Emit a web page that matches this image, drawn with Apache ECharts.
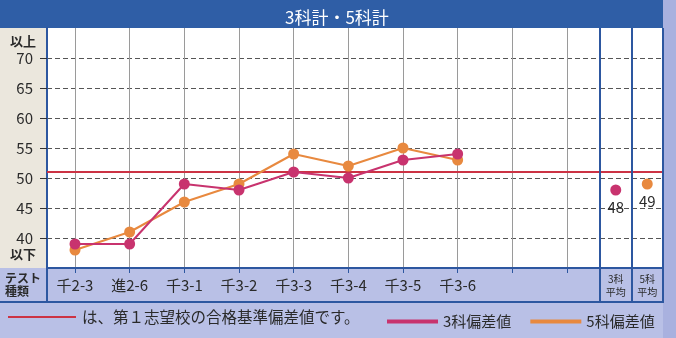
<!DOCTYPE html>
<html>
<head>
<meta charset="utf-8">
<script src="https://cdn.jsdelivr.net/npm/echarts@6/dist/echarts.min.js"></script>
<style>
html,body{margin:0;padding:0;}
#c{width:676px;height:338px;}
</style>
</head>
<body>
<div id="c"></div>
<script>
// ---- data ----
const categories = ['千2-3','進2-6','千3-1','千3-2','千3-3','千3-4','千3-5','千3-6','',''];
const score3 = [39, 39, 49, 48, 51, 50, 53, 54];
const score5 = [38, 41, 46, 49, 54, 52, 55, 53];
const avgCategories = ['3科\n平均', '5科\n平均'];
const avg3 = [48, '-'];
const avg5 = ['-', 49];
const passLine = 51;
const yTicks = [40, 45, 50, 55, 60, 65, 70];
const seriesNames = ['3科偏差値', '5科偏差値'];
const titleText = '3科計・5科計';
const noteText = 'は、第１志望校の合格基準偏差値です。';

// ---- style ----
const C3 = '#c8336e', C5 = '#e8893f', RED = '#cc3344', BLUE = '#2d57a0', TITLEBG = '#2f5ea6';
const NUMFONT = '"Liberation Sans Narrow","Noto Sans CJK JP",sans-serif';
const JPFONT = '"Noto Sans CJK JP",sans-serif';
const TXT = '#2a2a2a';

const chart = echarts.init(document.getElementById('c'), null, {renderer: 'canvas'});
const xIdx = categories.map((c, i) => i);

const dashed = {show: true, lineStyle: {color: '#555', width: 1, type: [5, 3]}};

const option = {
  backgroundColor: '#b9c0e6',
  animation: false,
  title: {
    text: titleText, left: 280, top: 4,
    textStyle: {color: '#fff', fontSize: 17, fontWeight: 'normal', fontFamily: JPFONT}
  },
  legend: {
    data: seriesNames, left: 382, top: 309, icon: 'rect', itemWidth: 51, itemHeight: 4,
    itemGap: 19, selectedMode: false,
    textStyle: {fontSize: 15, color: TXT, fontFamily: JPFONT}
  },
  graphic: [
    {type: 'rect', z: -10, shape: {x: 0, y: 0, width: 663, height: 28}, style: {fill: TITLEBG}},
    {type: 'rect', z: -10, shape: {x: 663, y: 0, width: 13, height: 338}, style: {fill: '#a9b1df'}},
    {type: 'rect', z: -10, shape: {x: 0, y: 28, width: 47, height: 240}, style: {fill: '#ebe7dd'}},
    {type: 'rect', z: -10, shape: {x: 47, y: 28, width: 616, height: 240}, style: {fill: '#ffffff'}},
    {type: 'line', z: 10, shape: {x1: 0, y1: 302, x2: 664, y2: 302}, style: {stroke: BLUE, lineWidth: 2}},
    {type: 'line', z: 10, shape: {x1: 47, y1: 268, x2: 47, y2: 302}, style: {stroke: BLUE, lineWidth: 2}},
    {type: 'line', z: 10, shape: {x1: 600, y1: 28, x2: 600, y2: 302}, style: {stroke: BLUE, lineWidth: 2}},
    {type: 'line', z: 10, shape: {x1: 632, y1: 28, x2: 632, y2: 302}, style: {stroke: BLUE, lineWidth: 2}},
    {type: 'line', z: 10, shape: {x1: 663, y1: 28, x2: 663, y2: 302}, style: {stroke: BLUE, lineWidth: 2}},
    {type: 'text', z: 10, left: 10, top: 35, style: {text: '以上', fontSize: 13, fontWeight: 'bold', fill: TXT, fontFamily: JPFONT}},
    {type: 'text', z: 10, left: 10, top: 248, style: {text: '以下', fontSize: 13, fontWeight: 'bold', fill: TXT, fontFamily: JPFONT}},
    {type: 'text', z: 10, left: 5, top: 272, style: {text: 'テスト\n種類', fontSize: 12, lineHeight: 13, align: 'center', fill: TXT, fontWeight: 'bold', fontFamily: JPFONT}},
    {type: 'line', z: 10, shape: {x1: 8, y1: 317, x2: 76, y2: 317}, style: {stroke: RED, lineWidth: 2}},
    {type: 'text', z: 10, left: 82, top: 309, style: {text: noteText, fontSize: 15.5, fill: TXT, fontFamily: JPFONT}}
  ],
  grid: [
    {left: 47, top: 28, width: 553, height: 240},
    {left: 600, top: 28, width: 63, height: 240}
  ],
  xAxis: [
    {
      type: 'value', gridIndex: 0, min: -0.512, max: 9.604,
      axisLine: {show: true, onZero: false, lineStyle: {color: BLUE, width: 2}},
      axisTick: {show: true, length: 5, customValues: xIdx, lineStyle: {color: BLUE, width: 1}},
      axisLabel: {customValues: xIdx, formatter: v => categories[Math.round(v)], margin: 10,
        fontSize: 15, color: TXT, fontFamily: NUMFONT},
      splitLine: {show: true, lineStyle: {color: '#9a9a9a', width: 1, type: 'solid'}}
    },
    {
      type: 'category', gridIndex: 1, data: avgCategories, boundaryGap: true,
      axisLine: {show: true, onZero: false, lineStyle: {color: BLUE, width: 2}},
      axisTick: {show: false},
      axisLabel: {margin: 5, fontSize: 10, lineHeight: 13, color: TXT, fontFamily: JPFONT, interval: 0},
      splitLine: {show: false}
    }
  ],
  yAxis: [
    {
      type: 'value', gridIndex: 0, min: 35, max: 75,
      axisLine: {show: true, onZero: false, lineStyle: {color: BLUE, width: 2}},
      axisTick: {show: true, length: 7, customValues: yTicks, lineStyle: {color: '#333', width: 1}},
      axisLabel: {customValues: yTicks, margin: 14, fontSize: 15, color: TXT, fontFamily: NUMFONT},
      splitLine: dashed
    },
    {
      type: 'value', gridIndex: 1, min: 35, max: 75,
      axisLine: {show: false, onZero: false},
      axisTick: {show: false, customValues: yTicks},
      axisLabel: {show: false, customValues: yTicks},
      splitLine: dashed
    }
  ],
  series: [
    {
      name: seriesNames[0], type: 'line', xAxisIndex: 0, yAxisIndex: 0, z: 4,
      data: score3.map((v, i) => [i, v]),
      symbol: 'circle', symbolSize: 11, itemStyle: {color: C3}, lineStyle: {color: C3, width: 2},
      markLine: {
        silent: true, symbol: 'none', label: {show: false}, z: 1,
        lineStyle: {color: RED, width: 2, type: 'solid'}, data: [{yAxis: passLine}]
      }
    },
    {
      name: seriesNames[1], type: 'line', xAxisIndex: 0, yAxisIndex: 0, z: 3,
      data: score5.map((v, i) => [i, v]),
      symbol: 'circle', symbolSize: 11, itemStyle: {color: C5}, lineStyle: {color: C5, width: 2}
    },
    {
      name: '3科平均', type: 'scatter', xAxisIndex: 1, yAxisIndex: 1, data: avg3,
      symbolSize: 11, itemStyle: {color: C3, opacity: 1},
      label: {show: true, position: 'bottom', distance: 4, fontSize: 15, color: TXT, opacity: 1, fontFamily: NUMFONT},
      markLine: {
        silent: true, symbol: 'none', label: {show: false}, z: 1,
        lineStyle: {color: RED, width: 2, type: 'solid'}, data: [{yAxis: passLine}]
      }
    },
    {
      name: '5科平均', type: 'scatter', xAxisIndex: 1, yAxisIndex: 1, data: avg5,
      symbolSize: 11, itemStyle: {color: C5, opacity: 1},
      label: {show: true, position: 'bottom', distance: 4, fontSize: 15, color: TXT, opacity: 1, fontFamily: NUMFONT}
    }
  ]
};
chart.setOption(option);
</script>
</body>
</html>
